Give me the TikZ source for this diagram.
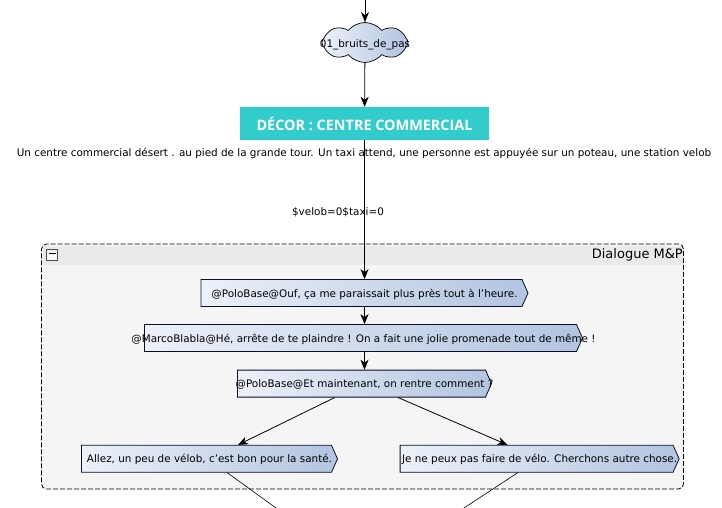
\documentclass[tikz,border=0pt]{standalone}
\usepackage{fontspec}
\setmainfont{DejaVu Sans}
\newfontfamily\titleFont{Open Sans}
\usetikzlibrary{arrows.meta, shapes.symbols}
\definecolor{MainColour}{RGB}{10,15,40}
\definecolor{decorTeal}{RGB}{51,204,204}
\definecolor{groupGrey}{RGB}{245,245,245}
\definecolor{headerGrey}{RGB}{234,234,234}
\definecolor{lightBlue}{RGB}{236,241,249}
\definecolor{deepBlue}{RGB}{178,196,224}
\newcommand{\lineText}[1]{\hspace*{6pt}\makebox[0pt]{#1}}
\tikzset{
  link/.style={draw=black, line width=0.8pt, -{Stealth[length=10pt,width=8pt,inset=3pt]}},
  plainLink/.style={draw=black, line width=0.6pt},
  dialogueBox/.style={signal, signal to=east, signal pointer angle=132, draw=MainColour,
    line width=0.8pt, left color=lightBlue, right color=deepBlue, inner sep=0pt,
    minimum height=27pt, text height=8pt, text depth=0pt, font=\fontsize{10.4}{12}\selectfont},
}
\begin{document}
\begin{tikzpicture}[x=1pt, y=-1pt]
\useasboundingbox (0,0) rectangle (722,508);

% Group frame
\node[fill=groupGrey, minimum width=642pt, minimum height=245pt, inner sep=0pt, rounded corners=5pt] (dialogueBack) at (362.5,366.5) {};
\node[fill=headerGrey, minimum width=640pt, minimum height=19pt, inner sep=0pt] (dialogueHeader) at (362.5,255) {};
\node[draw=black, dash pattern=on 5pt off 2pt, line width=0.8pt, minimum width=642pt, minimum height=245pt, inner sep=0pt, rounded corners=5pt] (dialogueFrame) at (362.5,366.5) {};
\node[draw=black!70, fill=white!60!headerGrey, line width=0.5pt, minimum width=11pt, minimum height=11pt, inner sep=0pt] (foldBox) at (52,255) {\rule[2.5pt]{7pt}{0.6pt}};
\node[anchor=east, inner sep=0pt, font=\fontsize{13}{15}\selectfont] (dialogueTitle) at (683,255) {Dialogue M\&P};

% Top of the flow
\coordinate (flowIn) at (365,0);
\node[cloud, cloud puffs=8, cloud puff arc=100, aspect=2.2, draw=black, line width=0.7pt, left color=lightBlue, right color=deepBlue,
  minimum width=86pt, minimum height=40pt, inner sep=0pt, text height=9.6pt, text depth=0pt, font=\fontsize{10.4}{12}\selectfont] (bruitsCloud) at (365,42.5) {\makebox[0pt]{01\_bruits\_de\_pas}};
\node[fill=decorTeal, text=white, minimum width=249pt, minimum height=33pt, inner sep=0pt, font=\titleFont\bfseries\fontsize{14.4}{16}\selectfont] (decorBox) at (364.5,123.5) {DÉCOR : CENTRE COMMERCIAL};
\node[inner sep=0pt, font=\fontsize{10.4}{12}\selectfont] (decorText) at (364,153.5) {Un centre commercial désert . au pied de la grande tour. Un taxi attend, une personne est appuyée sur un poteau, une station velob};
\node[inner sep=0pt, font=\fontsize{10.4}{12}\selectfont] (varLabel) at (338,212.5) {\$velob=0\$taxi=0};

% Dialogue lines
\node[dialogueBox, minimum width=327pt] (ligneA) at (361.5,293) {\lineText{@PoloBase@Ouf, ça me paraissait plus près tout à l'heure.}};
\node[dialogueBox, minimum width=438pt] (ligneB) at (360.5,338) {\lineText{@MarcoBlabla@Hé, arrête de te plaindre ! On a fait une jolie promenade tout de même !}};
\node[dialogueBox, minimum width=254pt] (ligneC) at (361.5,383.6) {\lineText{@PoloBase@Et maintenant, on rentre comment ?}};
\node[dialogueBox, minimum width=256pt] (choixA) at (206.5,458.8) {\lineText{Allez, un peu de vélob, c'est bon pour la santé.}};
\node[dialogueBox, minimum width=279pt] (choixB) at (536.6,458.8) {\lineText{Je ne peux pas faire de vélo. Cherchons autre chose.}};
\coordinate (suiteA) at (276,508);
\coordinate (suiteB) at (464,508);

% Connectors
\draw[link] (flowIn) -- (bruitsCloud);
\draw[link] (bruitsCloud) -- (decorBox);
\draw[link] (decorBox) -- (ligneA.north -| decorBox);
\draw[link] (ligneA.south -| decorBox) -- (ligneB.north -| decorBox);
\draw[link] (ligneB.south -| decorBox) -- (ligneC.north -| decorBox);
\draw[link] ([xshift=-26.7pt]ligneC.south) -- ([xshift=31.5pt]choixA.north);
\draw[link] ([xshift=36.5pt]ligneC.south) -- ([xshift=-29.1pt]choixB.north);
\draw[plainLink] ([xshift=20.8pt]choixA.south) -- (suiteA);
\draw[plainLink] ([xshift=-18.9pt]choixB.south) -- (suiteB);
\end{tikzpicture}
\end{document}
